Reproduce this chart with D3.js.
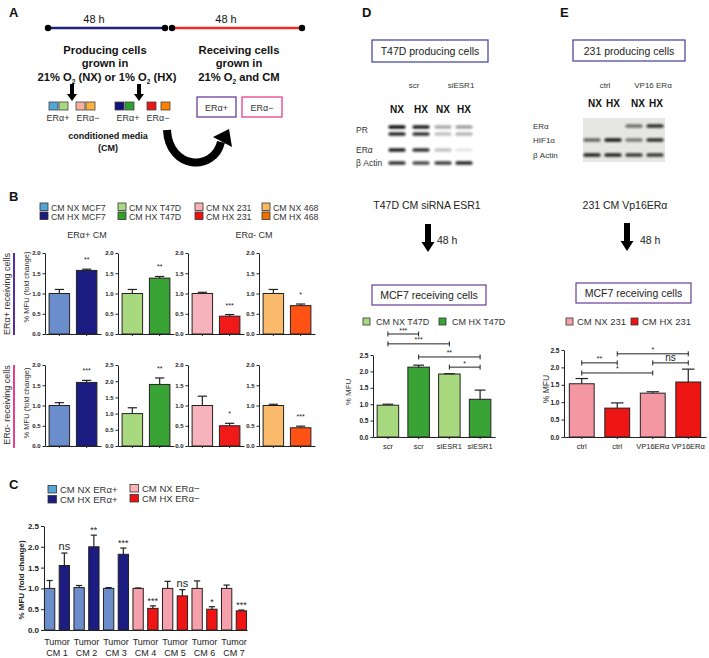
<!DOCTYPE html>
<html><head><meta charset="utf-8">
<script src="https://cdn.jsdelivr.net/npm/d3@7"></script>
<style>body{margin:0;background:#fff} svg{display:block;font-family:Arial,"Liberation Sans",sans-serif}</style>
</head><body><svg id="fig" width="709" height="658"></svg>
<script>
// ---------------- DATA ----------------
// Panel B
const bCells = ["MCF7", "T47D", "231", "468"];
const bLegendNX = ["CM NX MCF7", "CM NX T47D", "CM NX 231", "CM NX 468"];
const bLegendHX = ["CM HX MCF7", "CM HX T47D", "CM HX 231", "CM HX 468"];
const bTopNX = [1.0, 1.0, 1.0, 1.0];
const bTopNXerr = [0.10, 0.10, 0.03, 0.10];
const bTopHX = [1.57, 1.38, 0.44, 0.70];
const bTopHXerr = [0.03, 0.04, 0.04, 0.04];
const bTopSig = ["**", "**", "***", "*"];
const bBotNX = [1.0, 1.0, 1.0, 1.0];
const bBotNXerr = [0.07, 0.18, 0.23, 0.03];
const bBotHX = [1.57, 1.90, 0.50, 0.45];
const bBotHXerr = [0.05, 0.20, 0.06, 0.04];
const bBotSig = ["***", "**", "*", "***"];
const bTopMax = [2.0, 2.0, 2.0, 2.0];
const bBotMax = [2.0, 2.5, 2.0, 2.0];
// Panel C
const cTumors = ["CM 1", "CM 2", "CM 3", "CM 4", "CM 5", "CM 6", "CM 7"];
const cType = ["pos", "pos", "pos", "neg", "neg", "neg", "neg"];
const cNX = [1.00, 1.02, 1.00, 1.00, 1.00, 1.00, 1.00];
const cNXerr = [0.19, 0.05, 0.02, 0.01, 0.17, 0.18, 0.08];
const cHX = [1.55, 2.00, 1.82, 0.52, 0.82, 0.50, 0.46];
const cHXerr = [0.30, 0.28, 0.15, 0.06, 0.15, 0.06, 0.02];
const cSig = ["ns", "**", "***", "***", "ns", "*", "***"];
const cLegend = ["CM NX ERα+", "CM HX ERα+", "CM NX ERα−", "CM HX ERα−"];
// Panel D
const dCats = ["scr", "scr", "siESR1", "siESR1"];
const dVals = [0.97, 2.13, 1.92, 1.15];
const dErr = [0.03, 0.06, 0.01, 0.28];
const dBrackets = [[0, 1, 3.14, "***"], [0, 2, 2.84, "***"], [1, 3, 2.44, "**"], [2, 3, 2.13, "*"]];
const dBlotRows = ["PR", "", "ERα", "β Actin"];
const dBlot = [[1.0, 0.95, 0.35, 0.40], [0.9, 0.85, 0.25, 0.30], [0.95, 0.85, 0.25, 0.10], [0.85, 0.75, 0.80, 0.90]];
// Panel E
const eCats = ["ctrl", "ctrl", "VP16ERα", "VP16ERα"];
const eVals = [1.53, 0.83, 1.26, 1.58];
const eErr = [0.15, 0.15, 0.04, 0.37];
const eBrackets = [[1, 3, 2.39, "*"], [0, 1, 2.13, "**"], [2, 3, 2.13, "ns"], [0, 2, 1.84, "*"]];
const eBlotRows = ["ERα", "HIF1α", "β Actin"];
const eBlot = [[0, 0, 0.55, 0.85], [0.6, 0.95, 0.5, 0.85], [0.9, 0.9, 0.8, 0.8]];
const yTicks20 = [0, 0.5, 1.0, 1.5, 2.0];
const yTicks25 = [0, 0.5, 1.0, 1.5, 2.0, 2.5];

// ---------------- COLOURS ----------------
const colNX = ["#6b8dcb", "#a9d97f", "#f7b3bb", "#fbbb6c"];
const colHX = ["#1c1c82", "#3aa335", "#f01a1a", "#ff5214"];
const legNX = ["#55a6d8", "#a8d880", "#f8b4b4", "#fdb863"];
const legHX = ["#1b1b80", "#33a02c", "#ee1111", "#f27000"];

const svg = d3.select("#fig");
svg.append("rect").attr("width", 709).attr("height", 658).attr("fill", "#fff");
const defs = svg.append("defs");
defs.append("filter").attr("id", "blur").attr("x", "-20%").attr("y", "-80%").attr("width", "140%").attr("height", "260%")
  .append("feGaussianBlur").attr("stdDeviation", 0.8);

function txt(x, y, s, o = {}) {
  const t = svg.append("text").attr("x", x).attr("y", y).text(s)
    .attr("font-size", o.size || 10).attr("text-anchor", o.anchor || "middle")
    .attr("font-weight", o.bold ? "bold" : "normal").attr("fill", o.fill || "#111");
  if (o.rotate) t.attr("transform", `rotate(-90,${x},${y})`);
  return t;
}
function sq(x, y, w, h, fill, stroke) {
  return svg.append("rect").attr("x", x).attr("y", y).attr("width", w).attr("height", h)
    .attr("fill", fill).attr("stroke", stroke || "#333").attr("stroke-width", 0.8);
}
function downArrow(x, y1, y2, sw, hw, hl) {
  svg.append("path").attr("d", `M${x - sw / 2},${y1}H${x + sw / 2}V${y2 - hl}H${x + hw / 2}L${x},${y2}L${x - hw / 2},${y2 - hl}H${x - sw / 2}Z`).attr("fill", "#000");
}

function barChart(o) {
  const n = o.values.length;
  const x = d3.scaleBand().domain(d3.range(n)).range([o.ax, o.axEnd]).paddingInner(o.pin).paddingOuter(o.pout);
  const y = d3.scaleLinear().domain([0, o.max]).range([o.y0, o.y1]);
  const g = svg.append("g");
  g.selectAll("rect").data(o.values).join("rect")
    .attr("x", (d, i) => x(i)).attr("width", x.bandwidth())
    .attr("y", d => y(d)).attr("height", d => o.y0 - y(d))
    .attr("fill", (d, i) => o.fills[i]).attr("stroke", "#222").attr("stroke-width", 1);
  o.values.forEach((v, i) => {
    const cx = x(i) + x.bandwidth() / 2, e = o.errs[i], cw = x.bandwidth() * (o.cap || 0.45);
    g.append("line").attr("x1", cx).attr("x2", cx).attr("y1", y(v)).attr("y2", y(v + e)).attr("stroke", "#222").attr("stroke-width", 1.2);
    g.append("line").attr("x1", cx - cw / 2).attr("x2", cx + cw / 2).attr("y1", y(v + e)).attr("y2", y(v + e)).attr("stroke", "#222").attr("stroke-width", 1.2);
  });
  const ya = g.append("g").attr("transform", `translate(${o.ax},0)`)
    .call(d3.axisLeft(y).tickValues(o.ticks).tickFormat(d3.format(".1f")).tickSize(o.tick || 3).tickSizeOuter(0).tickPadding(o.tpad || 2));
  ya.selectAll("text").attr("font-size", o.tickFont).attr("font-weight", "bold").attr("font-family", "Arial, 'Liberation Sans', sans-serif").attr("fill", "#222");
  ya.selectAll("line,path").attr("stroke", "#222");
  const xa = g.append("g").attr("transform", `translate(0,${o.y0})`)
    .call(d3.axisBottom(x).tickSize(o.xtick == null ? 2 : o.xtick).tickSizeOuter(0).tickPadding(5)
      .tickFormat(o.labels ? (i => o.labels[i]) : ""));
  xa.selectAll("text").attr("font-size", o.xFont || 8).attr("font-family", "Arial, 'Liberation Sans', sans-serif").attr("fill", "#222");
  xa.selectAll("line,path").attr("stroke", "#222");
  return { x, y, g };
}
function bracket(c, a, b, level, label, o = {}) {
  const xa = c.x(a) + c.x.bandwidth() / 2, xb = c.x(b) + c.x.bandwidth() / 2, yy = c.y(level);
  c.g.append("path").attr("d", `M${xa},${yy - 2.5}V${yy + 2.5}M${xa},${yy}H${xb}M${xb},${yy - 2.5}V${yy + 2.5}`)
    .attr("stroke", "#222").attr("stroke-width", 1).attr("fill", "none");
  const ns = label === "ns";
  txt((xa + xb) / 2, yy - (ns ? 2 : 1.5), label, { size: ns ? (o.nsSize || 10) : (o.starSize || 7), fill: "#222" });
}

// ---------------- PANEL A ----------------
txt(9, 17, "A", { size: 13, bold: true, anchor: "start" });
svg.append("line").attr("x1", 48).attr("x2", 165).attr("y1", 28).attr("y2", 28).attr("stroke", "#1f1f85").attr("stroke-width", 2.5);
svg.append("line").attr("x1", 172).attr("x2", 302).attr("y1", 28).attr("y2", 28).attr("stroke", "#ee2a2a").attr("stroke-width", 2.5);
[48, 165, 172, 302].forEach(cx => svg.append("circle").attr("cx", cx).attr("cy", 28).attr("r", 3.2).attr("fill", "#000"));
txt(94, 23, "48 h", { size: 11 });
txt(226, 23, "48 h", { size: 11 });
txt(105, 54, "Producing cells", { size: 11.2, bold: true });
txt(105, 67, "grown in", { size: 11.2, bold: true });
{
  const t = txt(107, 81, "", { size: 11.2, bold: true });
  t.append("tspan").text("21% O");
  t.append("tspan").text("2").attr("font-size", 6.5).attr("dy", 3);
  t.append("tspan").text(" (NX) or 1% O").attr("dy", -3);
  t.append("tspan").text("2").attr("font-size", 6.5).attr("dy", 3);
  t.append("tspan").text(" (HX)").attr("dy", -3);
}
txt(239, 54, "Receiving  cells", { size: 11.2, bold: true });
txt(239, 67, "grown in", { size: 11.2, bold: true });
{
  const t = txt(239, 81, "", { size: 11.2, bold: true });
  t.append("tspan").text("21% O");
  t.append("tspan").text("2").attr("font-size", 6.5).attr("dy", 3);
  t.append("tspan").text(" and CM").attr("dy", -3);
}
downArrow(72, 84, 101, 4, 10, 7);
downArrow(139, 84, 101, 4, 10, 7);
const aSquares = [[49, legNX[0]], [59, legNX[1]], [76, "#f5b0a0"], [86, "#fbb040"], [115, "#12127a"], [125, "#2fa02f"], [147, "#e81818"], [161, "#ff7f00"]];
aSquares.forEach(([x, c]) => sq(x, 102, 9, 8, c, "#444"));
txt(58, 121, "ERα+", { size: 9, fill: "#333" });
txt(88, 121, "ERα−", { size: 9, fill: "#333" });
txt(128, 121, "ERα+", { size: 9, fill: "#333" });
txt(158, 121, "ERα−", { size: 9, fill: "#333" });
svg.append("rect").attr("x", 197).attr("y", 97).attr("width", 39).attr("height", 20).attr("fill", "none").attr("stroke", "#6a3d9a").attr("stroke-width", 1.3);
svg.append("rect").attr("x", 242).attr("y", 97).attr("width", 40).attr("height", 20).attr("fill", "none").attr("stroke", "#e8408a").attr("stroke-width", 1.3);
txt(216.5, 110.5, "ERα+", { size: 9, fill: "#333" });
txt(262, 110.5, "ERα−", { size: 9, fill: "#333" });
txt(108, 139, "conditioned  media", { size: 9, bold: true });
txt(108, 151, "(CM)", { size: 9, bold: true });
svg.append("path").attr("d", "M167,130 C169,170 214,172 221,142").attr("fill", "none").attr("stroke", "#000").attr("stroke-width", 8);
svg.append("path").attr("d", "M229,129 L232,147 L213,137 Z").attr("fill", "#000");

// ---------------- PANEL B ----------------
txt(9, 201, "B", { size: 13, bold: true, anchor: "start" });
const bLegX = [40, 118, 195, 262];
bCells.forEach((c, i) => {
  sq(bLegX[i], 203, 8, 7.5, legNX[i]);
  sq(bLegX[i], 212, 8, 7.5, legHX[i]);
  txt(bLegX[i] + 11, 210.5, bLegendNX[i], { size: 8.8, anchor: "start", fill: "#333" });
  txt(bLegX[i] + 11, 219.5, bLegendHX[i], { size: 8.8, anchor: "start", fill: "#333" });
});
txt(87, 238, "ERα+ CM", { size: 9, fill: "#333" });
txt(254, 238, "ERα- CM", { size: 9, fill: "#333" });
const bAx = [45, 118, 188, 259];
function bRow(nx, nxe, hx, hxe, sig, maxes, y0, y1) {
  bCells.forEach((c, i) => {
    const ch = barChart({
      values: [nx[i], hx[i]], errs: [nxe[i], hxe[i]], fills: [colNX[i], colHX[i]],
      ax: bAx[i], axEnd: bAx[i] + 56, pin: 0.25, pout: 0.15, max: maxes[i],
      ticks: maxes[i] > 2 ? yTicks25 : yTicks20, y0, y1, tickFont: 6, tick: 2.5, cap: 0.45
    });
    const cx = ch.x(1) + ch.x.bandwidth() / 2;
    txt(cx, ch.y(hx[i] + hxe[i]) - 7, sig[i], { size: 7, fill: "#222" });
  });
}
bRow(bTopNX, bTopNXerr, bTopHX, bTopHXerr, bTopSig, bTopMax, 334, 253);
bRow(bBotNX, bBotNXerr, bBotHX, bBotHXerr, bBotSig, bBotMax, 446, 365);
txt(29, 287, "% MFU (fold change)", { size: 7.5, rotate: true, fill: "#333" });
txt(29, 403, "% MFU (fold change)", { size: 7.5, rotate: true, fill: "#333" });
txt(10, 294, "ERα+ receiving cells", { size: 9, rotate: true, fill: "#333" });
txt(10, 405, "ERα- receiving cells", { size: 9, rotate: true, fill: "#333" });
svg.append("line").attr("x1", 14).attr("x2", 14).attr("y1", 253).attr("y2", 335).attr("stroke", "#5b2d9a").attr("stroke-width", 2);
svg.append("line").attr("x1", 14).attr("x2", 14).attr("y1", 365).attr("y2", 448).attr("stroke", "#e83e8c").attr("stroke-width", 2);

// ---------------- PANEL C ----------------
txt(9, 489, "C", { size: 13, bold: true, anchor: "start" });
const cLegCols = [legNX[0], legHX[0], "#f8b4b4", "#ee1111"];
[[48, 493, 0], [48, 503, 1], [130, 492, 2], [130, 502, 3]].forEach(([x, y, k]) => {
  sq(x, y - 7.5, 8.5, 7.5, cLegCols[k]);
  txt(x + 12, y, cLegend[k], { size: 9.5, anchor: "start", fill: "#333" });
});
const cVals = cTumors.flatMap((t, i) => [cNX[i], cHX[i]]);
const cErrs = cTumors.flatMap((t, i) => [cNXerr[i], cHXerr[i]]);
const cFills = cTumors.flatMap((t, i) => cType[i] === "pos" ? [colNX[0], colHX[0]] : ["#f5a0aa", "#f01515"]);
const cChart = barChart({
  values: cVals, errs: cErrs, fills: cFills, ax: 44, axEnd: 247, pin: 0.3, pout: 0.03,
  max: 2.5, ticks: yTicks25, y0: 630, y1: 526, tickFont: 8, tick: 3, xtick: 0, cap: 0.6
});
cTumors.forEach((t, i) => {
  const cx = (cChart.x(2 * i) + cChart.x(2 * i + 1) + cChart.x.bandwidth()) / 2;
  txt(cx, 645, "Tumor", { size: 9, fill: "#222" });
  txt(cx, 656, t, { size: 9, fill: "#222" });
  const hx = cChart.x(2 * i + 1) + cChart.x.bandwidth() / 2;
  const ns = cSig[i] === "ns";
  txt(hx, cChart.y(cHX[i] + cHXerr[i]) - (ns ? 3 : 2), cSig[i], { size: ns ? 11 : 9, fill: "#222" });
});
txt(24, 580, "% MFU (fold change)", { size: 8, bold: true, rotate: true, fill: "#222" });

// ---------------- PANEL D ----------------
txt(362, 17, "D", { size: 13, bold: true, anchor: "start" });
svg.append("rect").attr("x", 372).attr("y", 40).attr("width", 116).attr("height", 22).attr("fill", "none").attr("stroke", "#3d3d99").attr("stroke-width", 1.2);
txt(430, 55, "T47D producing cells", { size: 10.5, fill: "#222" });
txt(414, 88, "scr", { size: 8, fill: "#333" });
txt(461, 88, "siESR1", { size: 8, fill: "#333" });
const dLanes = [397, 421, 443, 464];
["NX", "HX", "NX", "HX"].forEach((s, i) => txt(dLanes[i], 113, s, { size: 10, bold: true }));
const dRowY = [127, 134, 150, 163];
dBlot.forEach((row, r) => row.forEach((v, i) => {
  if (v > 0) svg.append("rect").attr("x", dLanes[i] - 8.5).attr("y", dRowY[r] - 1.8).attr("width", 17).attr("height", 3.6).attr("rx", 1.5)
    .attr("fill", "#111").attr("opacity", v).attr("filter", "url(#blur)");
}));
dBlotRows.forEach((s, r) => { if (s) txt(356, dRowY[r] + (r === 0 ? 6 : 3), s, { size: 8.5, anchor: "start", fill: "#333" }); });
txt(427, 209, "T47D CM siRNA ESR1", { size: 10.5, fill: "#222" });
downArrow(428, 224, 252, 6, 13, 10);
txt(437, 244, "48 h", { size: 10.5, anchor: "start", fill: "#222" });
svg.append("rect").attr("x", 372).attr("y", 285).attr("width", 114).attr("height", 20).attr("fill", "none").attr("stroke", "#6a3d9a").attr("stroke-width", 1.2);
txt(429, 299, "MCF7 receiving cells", { size: 10.5, fill: "#222" });
sq(363, 318, 7, 7, colNX[1]);
txt(376, 325, "CM NX T47D", { size: 9, anchor: "start", fill: "#333" });
sq(439, 318, 7, 7, colHX[1]);
txt(452, 325, "CM HX T47D", { size: 9, anchor: "start", fill: "#333" });
const dChart = barChart({
  values: dVals, errs: dErr, fills: [colNX[1], colHX[1], colNX[1], colHX[1]], ax: 373, axEnd: 495, pin: 0.3, pout: 0.135,
  max: 2.5, ticks: yTicks25, y0: 437, y1: 355, tickFont: 6.5, tick: 2.5, labels: dCats, xFont: 7.5, cap: 0.5
});
dBrackets.forEach(([a, b, l, s]) => bracket(dChart, a, b, l, s, { starSize: 7 }));
txt(351, 392, "% MFU", { size: 8, rotate: true, fill: "#333" });

// ---------------- PANEL E ----------------
txt(560, 17, "E", { size: 13, bold: true, anchor: "start" });
svg.append("rect").attr("x", 573).attr("y", 40).attr("width", 112).attr("height", 21).attr("fill", "none").attr("stroke", "#3d3d99").attr("stroke-width", 1.2);
txt(629, 55, "231 producing cells", { size: 10.5, fill: "#222" });
txt(605, 88, "ctrl", { size: 8, fill: "#333" });
txt(653, 88, "VP16 ERα", { size: 8, fill: "#333" });
const eLanes = [595, 613, 638, 656];
["NX", "HX", "NX", "HX"].forEach((s, i) => txt(eLanes[i], 107, s, { size: 10, bold: true }));
svg.append("rect").attr("x", 583).attr("y", 118).attr("width", 82).attr("height", 44).attr("fill", "#e6e6e2");
const eBandX = [592, 613, 634, 655];
const eRowY = [126, 140, 155];
eBlot.forEach((row, r) => row.forEach((v, i) => {
  if (v > 0) svg.append("rect").attr("x", eBandX[i] - 8.5).attr("y", eRowY[r] - 1.7).attr("width", 17).attr("height", 3.4).attr("rx", 1.5)
    .attr("fill", "#111").attr("opacity", v).attr("filter", "url(#blur)");
}));
eBlotRows.forEach((s, r) => txt(533, eRowY[r] + 3, s, { size: 8, anchor: "start", fill: "#333" }));
txt(625, 209, "231 CM Vp16ERα", { size: 10.5, fill: "#222" });
downArrow(627, 223, 251, 6, 13, 10);
txt(640, 244, "48 h", { size: 10.5, anchor: "start", fill: "#222" });
svg.append("rect").attr("x", 576).attr("y", 283).attr("width", 115).attr("height", 20).attr("fill", "none").attr("stroke", "#6a3d9a").attr("stroke-width", 1.2);
txt(633.5, 297, "MCF7 receiving cells", { size: 10.5, fill: "#222" });
sq(566, 318, 7, 7, "#f5a0aa");
txt(577, 325, "CM NX 231", { size: 9.5, anchor: "start", fill: "#333" });
sq(631, 318, 7, 7, "#ee1111");
txt(642, 325, "CM HX 231", { size: 9.5, anchor: "start", fill: "#333" });
const eChart = barChart({
  values: eVals, errs: eErr, fills: ["#f597a3", "#ee1515", "#f597a3", "#ee1515"], ax: 564, axEnd: 706, pin: 0.3, pout: 0.15,
  max: 2.5, ticks: yTicks25, y0: 437, y1: 350, tickFont: 6.5, tick: 2.5, labels: eCats, xFont: 7.5, cap: 0.5
});
eBrackets.forEach(([a, b, l, s]) => bracket(eChart, a, b, l, s, { starSize: 7, nsSize: 10 }));
txt(549, 389, "% MFU", { size: 8.5, rotate: true, fill: "#333" });
</script></body></html>
